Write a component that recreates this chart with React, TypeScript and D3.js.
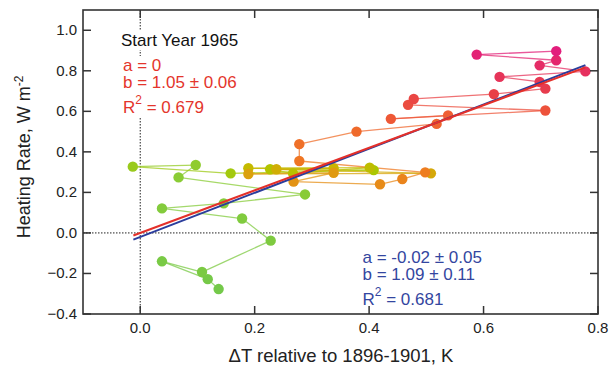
import React from "react";
import * as d3 from "d3";

const years = d3.range(1965, 2010);
const deltaT = [
  0.137, 0.118, 0.038, 0.108, 0.228, 0.178, 0.038, 0.146, 0.288, 0.067,
  0.097, -0.013, 0.158, 0.408, 0.227, 0.267, 0.401, 0.189, 0.338, 0.238,
  0.508, 0.189, 0.338, 0.268, 0.419, 0.458, 0.498, 0.278, 0.278, 0.378,
  0.518, 0.538, 0.438, 0.708, 0.468, 0.478, 0.618, 0.708, 0.698, 0.628,
  0.778, 0.698, 0.727, 0.588, 0.727,
];
const heatRate = [
  -0.277, -0.228, -0.14, -0.193, -0.038, 0.071, 0.121, 0.146, 0.19, 0.274,
  0.335, 0.327, 0.294, 0.31, 0.314, 0.294, 0.322, 0.319, 0.319, 0.314,
  0.294, 0.291, 0.297, 0.253, 0.24, 0.266, 0.299, 0.355, 0.438, 0.5,
  0.538, 0.58, 0.563, 0.604, 0.632, 0.661, 0.685, 0.712, 0.745, 0.77,
  0.797, 0.827, 0.852, 0.88, 0.897,
];

const xTicks = [0.0, 0.2, 0.4, 0.6, 0.8];
const yTicks = [-0.4, -0.2, 0.0, 0.2, 0.4, 0.6, 0.8, 1.0];

const colorStops = [0, 0.22, 0.29, 0.4, 0.5, 0.6, 0.72, 0.82, 0.9, 1];
const colorRange = [
  "#74c94a", "#8ccc33", "#aac800", "#c8b800", "#e09a10",
  "#ef7a22", "#ef5a35", "#e84048", "#e6325c", "#e21e7c",
];

const fitRed = { a: 0, b: 1.05, x0: -0.012, x1: 0.778 };
const fitBlue = { a: -0.02, b: 1.09, x0: -0.012, x1: 0.778 };

const W = 611;
const H = 366;
const FONT = "'Liberation Sans', Arial, Helvetica, sans-serif";

export default function App() {
  const x = d3.scaleLinear().domain([-0.1, 0.8]).range([83, 598]);
  const y = d3.scaleLinear().domain([-0.4, 1.1]).range([314, 10]);
  const n = years.length;
  const col = d3
    .scaleLinear<string>()
    .domain(colorStops.map((t) => t * (n - 1)))
    .range(colorRange)
    .interpolate(d3.interpolateRgb);

  const pts = years.map((yr, i) => ({ yr, i, dx: deltaT[i], hr: heatRate[i] }));
  const [x0, x1] = x.range();
  const [yb, yt] = y.range();
  const tickLen = 8;

  const fitLine = (f: typeof fitRed) => {
    const line = d3.line<number>().x((v) => x(v)).y((v) => y(f.a + f.b * v));
    return line([f.x0, f.x1]) || "";
  };

  return (
    <svg
      width={W}
      height={H}
      style={{ position: "absolute", left: 0, top: 0, background: "#fff" }}
      fontFamily={FONT}
    >
      {/* zero lines */}
      <line x1={x(0)} x2={x(0)} y1={yt} y2={yb} stroke="#222" strokeWidth={1} strokeDasharray="1.5,1.5" />
      <line x1={x0} x2={x1} y1={y(0)} y2={y(0)} stroke="#222" strokeWidth={1} strokeDasharray="1.5,1.5" />

      {/* white boxes behind the annotation text */}
      <rect x={118} y={31} width={126} height={19} fill="#fff" />
      <rect x={118} y={56} width={126} height={61} fill="#fff" />

      {/* annotations */}
      <text x={121} y={46} fontSize={17} fill="#111">Start Year 1965</text>
      <text fill="#e4352c" fontSize={17}>
        <tspan x={123} y={70.5}>a = 0</tspan>
        <tspan x={123} y={87.5}>b = 1.05 ± 0.06</tspan>
        <tspan x={123} y={112.5}>R</tspan>
        <tspan fontSize={12} dy={-9}>2</tspan>
        <tspan dy={9}> = 0.679</tspan>
      </text>
      <text fill="#3346a0" fontSize={17}>
        <tspan x={362.5} y={262.5}>a = -0.02 ± 0.05</tspan>
        <tspan x={362.5} y={280}>b = 1.09 ± 0.11</tspan>
        <tspan x={362.5} y={305}>R</tspan>
        <tspan fontSize={12} dy={-9}>2</tspan>
        <tspan dy={9}> = 0.681</tspan>
      </text>

      {/* connecting segments */}
      {pts.slice(1).map((p, k) => {
        const q = pts[k];
        return (
          <line
            key={"s" + k}
            x1={x(q.dx)}
            y1={y(q.hr)}
            x2={x(p.dx)}
            y2={y(p.hr)}
            stroke={col(k + 0.5)}
            strokeOpacity={0.75}
            strokeWidth={1.3}
          />
        );
      })}
      {/* points */}
      {pts.map((p) => (
        <circle key={"c" + p.i} cx={x(p.dx)} cy={y(p.hr)} r={5.2} fill={col(p.i)} />
      ))}

      {/* fit lines */}
      <path d={fitLine(fitBlue)} stroke="#2b3d9c" strokeWidth={2} fill="none" />
      <path d={fitLine(fitRed)} stroke="#e4302a" strokeWidth={2} fill="none" />

      {/* frame */}
      <rect x={x0} y={yt} width={x1 - x0} height={yb - yt} fill="none" stroke="#333" strokeWidth={1.6} />

      {/* ticks */}
      {xTicks.map((t) => (
        <g key={"xt" + t}>
          <line x1={x(t)} x2={x(t)} y1={yb} y2={yb - tickLen} stroke="#333" strokeWidth={1.5} />
          <line x1={x(t)} x2={x(t)} y1={yt} y2={yt + tickLen} stroke="#333" strokeWidth={1.5} />
          <text x={x(t)} y={333} textAnchor="middle" fontSize={15} fill="#222">
            {d3.format(".1f")(t)}
          </text>
        </g>
      ))}
      {yTicks.map((t) => (
        <g key={"yt" + t}>
          <line x1={x0} x2={x0 + tickLen} y1={y(t)} y2={y(t)} stroke="#333" strokeWidth={1.5} />
          <line x1={x1} x2={x1 - tickLen} y1={y(t)} y2={y(t)} stroke="#333" strokeWidth={1.5} />
          <text x={77} y={y(t) + 5} textAnchor="end" fontSize={15} fill="#222">
            {d3.format(".1f")(t)}
          </text>
        </g>
      ))}

      {/* axis labels */}
      <text x={341} y={362} textAnchor="middle" fontSize={18.5} fill="#222">
        ΔT relative to 1896-1901, K
      </text>
      <text transform="translate(30,157) rotate(-90)" textAnchor="middle" fontSize={18} fill="#222">
        Heating Rate, W m
        <tspan fontSize={12} dy={-7}>-2</tspan>
      </text>
    </svg>
  );
}
